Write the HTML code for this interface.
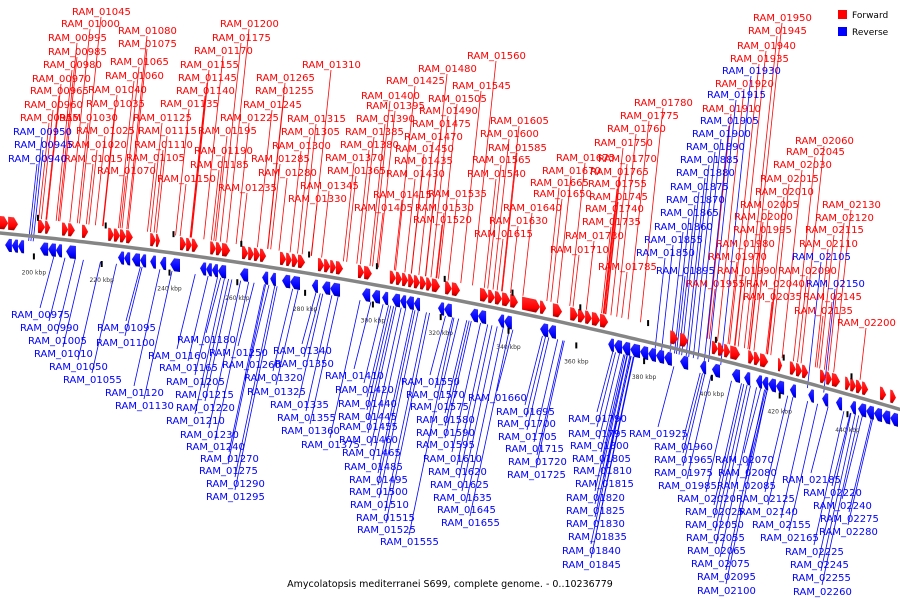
<!DOCTYPE html>
<html><head><meta charset="utf-8"><style>
html,body{margin:0;padding:0;background:#fff;}
svg{display:block;font-family:"DejaVu Sans","Liberation Sans",sans-serif;}
</style></head><body>
<svg id="map" width="900" height="600" viewBox="0 0 900 600" xmlns="http://www.w3.org/2000/svg">
<rect width="900" height="600" fill="#fff"/>
<g id="leaders"></g>
<path id="axis" fill="none" stroke="#858585" stroke-width="3.5"/>
<g id="genes"></g>
<g id="ticks"></g>
<g id="labels"></g>
<g>
<rect x="838" y="10" width="9" height="9" fill="#f00"/>
<text x="852" y="18" font-size="9" fill="#000">Forward</text>
<rect x="838" y="27" width="9" height="9" fill="#00f"/>
<text x="852" y="35" font-size="9" fill="#000">Reverse</text>
</g>
<text x="450" y="587" font-size="9.5" text-anchor="middle" fill="#000">Amycolatopsis mediterranei S699, complete genome. - 0..10236779</text>
</svg>
<script>
// data (kbp)
const fwdStart=[190,192.4,201.2,203.3,208.3,210.1,214.2,221.9,223.6,225.4,227.2,234.3,236,243.1,244.9,246.6,252,253.7,255.5,261.4,263.2,264.9,266.7,272.6,274.4,276.1,277.9,283.8,285.6,287.4,289.1,295.6,297.4,305,306.8,308.6,310.4,312.1,313.9,315.7,317.4,321.3,323.3,331.6,334,336,338.1,340.5,344,349.3,353.1,358.2,360.5,362.6,364.6,367,387.7,390.6,400,401.8,403.6,405.4,410.7,412.4,414.2,419.5,423,424.8,426.6,431.9,433.7,435.4,439.3,440.8,442.5,444.3,449.6,452.6];
const fwdEnd=[192.4,195.3,203.3,204.8,210.1,212.1,216,223.6,225.4,227.2,229.2,236,237.2,244.9,246.6,248.4,253.7,255.5,257.9,263.2,264.9,266.7,268.5,274.4,276.1,277.9,280,285.6,287.4,289.1,291.2,297.4,299.7,306.8,308.6,310.4,312.1,313.9,315.7,317.4,319.8,323.3,325.7,334,336,338.1,340.5,342.8,349.3,351.1,355.8,360.5,362.6,364.6,367,369.4,390,393,401.8,403.6,405.4,408.3,412.4,414.2,416.6,420.7,424.8,426.6,428.4,433.7,435.4,437.8,440.8,442.5,444.3,446.1,451.4,454.3];
const revStart=[191.5,193.5,195.3,201.8,204.2,206.5,209.5,224.8,226.6,228.9,231.3,234.3,237.2,240.2,249,250.8,252.5,254.3,260.8,267.3,269.7,273.2,275.6,282,285,287.4,296.8,299.7,302.7,305.6,308,309.8,312.1,319.2,321,328.7,331,336.9,338.7,349.3,351.7,369.4,371.1,373.5,375.9,378.8,381.2,383.5,385.9,390.6,396.5,400,405.9,409.5,413,414.8,416.6,418.9,423,428.4,432.5,436.6,440.8,443.1,445.5,447.8,450.2,452.6];
const revEnd=[193.5,195.3,197.1,204.2,206.5,208.3,212.4,226.6,228.4,231.3,233.1,236,239,243.1,250.8,252.5,254.3,256.7,263.2,269.1,271.4,275.6,278.5,283.8,287.4,290.3,299.2,302.1,304.5,308,309.8,312.1,313.9,321,323.3,331,333.4,338.7,341,351.7,354,371.1,373.5,375.9,378.8,381.2,383.5,385.9,388.2,393,398.3,402.4,408.3,411.3,414.8,416.6,418.9,421.3,424.8,430.1,434.3,438.4,442.5,445.5,447.8,450.2,452.6,454.9];
const tickKbp=[200,220,240,260,280,300,320,340,360,380,400,420,440];
const tickLabels=["200 kbp","220 kbp","240 kbp","260 kbp","280 kbp","300 kbp","320 kbp","340 kbp","360 kbp","380 kbp","400 kbp","420 kbp","440 kbp"];
const labelNames=["RAM_01045","RAM_01000","RAM_01080","RAM_00995","RAM_01075","RAM_00985","RAM_01065","RAM_00980","RAM_01060","RAM_00970","RAM_01040","RAM_00965","RAM_01035","RAM_00960","RAM_01030","RAM_00955","RAM_01025","RAM_00950","RAM_01020","RAM_00945","RAM_01015","RAM_00940","RAM_01070",
"RAM_01200","RAM_01175","RAM_01170","RAM_01155","RAM_01145","RAM_01140","RAM_01135","RAM_01125","RAM_01115","RAM_01110","RAM_01105","RAM_01150","RAM_01195","RAM_01190","RAM_01185","RAM_01235","RAM_01225","RAM_01245","RAM_01255","RAM_01265","RAM_01310","RAM_01315","RAM_01305","RAM_01300","RAM_01285","RAM_01280","RAM_01345","RAM_01330","RAM_01365","RAM_01370","RAM_01380","RAM_01385","RAM_01390","RAM_01395","RAM_01400","RAM_01425","RAM_01480","RAM_01560","RAM_01545","RAM_01505","RAM_01490","RAM_01475","RAM_01470","RAM_01450","RAM_01435","RAM_01430","RAM_01415","RAM_01405","RAM_01540","RAM_01565","RAM_01585","RAM_01600","RAM_01605","RAM_01535","RAM_01530","RAM_01520","RAM_01650","RAM_01640","RAM_01630","RAM_01615","RAM_01675","RAM_01670","RAM_01665","RAM_01780","RAM_01775","RAM_01760","RAM_01750","RAM_01770","RAM_01765","RAM_01755","RAM_01745","RAM_01740","RAM_01735","RAM_01730","RAM_01710","RAM_01785",
"RAM_01950","RAM_01945","RAM_01940","RAM_01935","RAM_01930","RAM_01920","RAM_01915","RAM_01910","RAM_01905","RAM_01900","RAM_01890","RAM_01885","RAM_01880","RAM_01875","RAM_01870","RAM_01865","RAM_01860","RAM_01855","RAM_01850","RAM_01895","RAM_01955","RAM_01990","RAM_01970","RAM_01980","RAM_01995","RAM_02000","RAM_02005","RAM_02010","RAM_02015","RAM_02030","RAM_02045","RAM_02060","RAM_02040","RAM_02035","RAM_02090","RAM_02105","RAM_02110","RAM_02115","RAM_02120","RAM_02130","RAM_02150","RAM_02145","RAM_02135","RAM_02200",
"RAM_00975","RAM_00990","RAM_01005","RAM_01010","RAM_01050","RAM_01055","RAM_01095","RAM_01100","RAM_01120","RAM_01130","RAM_01180","RAM_01160","RAM_01165","RAM_01205","RAM_01215","RAM_01220","RAM_01210","RAM_01230","RAM_01240","RAM_01270","RAM_01275","RAM_01290","RAM_01295","RAM_01250","RAM_01260","RAM_01320","RAM_01325","RAM_01335","RAM_01340","RAM_01350","RAM_01355","RAM_01360","RAM_01375","RAM_01410","RAM_01420","RAM_01440","RAM_01445","RAM_01455","RAM_01460","RAM_01465","RAM_01485","RAM_01495","RAM_01500","RAM_01510","RAM_01515","RAM_01525","RAM_01555","RAM_01550","RAM_01570","RAM_01575","RAM_01580","RAM_01590","RAM_01595","RAM_01610","RAM_01620","RAM_01625","RAM_01635","RAM_01645","RAM_01655","RAM_01660","RAM_01695","RAM_01700","RAM_01705","RAM_01715","RAM_01720","RAM_01725","RAM_01790","RAM_01795","RAM_01800","RAM_01805","RAM_01810","RAM_01815","RAM_01820","RAM_01825","RAM_01830","RAM_01835","RAM_01840","RAM_01845","RAM_01925","RAM_01960","RAM_01965","RAM_01975","RAM_01985","RAM_02020","RAM_02025","RAM_02050","RAM_02055","RAM_02065","RAM_02075","RAM_02095","RAM_02100","RAM_02070","RAM_02080","RAM_02085","RAM_02125","RAM_02140","RAM_02155","RAM_02165","RAM_02185","RAM_02220","RAM_02240","RAM_02275","RAM_02280","RAM_02225","RAM_02245","RAM_02255","RAM_02260"];
const labelX=[72,61,118,48,118,48,110,43,105,32,88,30,86,24,59,20,76,13,68,14,64,8,97,
220,212,194,180,178,176,160,133,138,134,126,157,198,194,190,218,220,243,255,256,302,287,281,272,251,258,300,288,327,325,340,345,356,366,361,386,418,467,452,428,419,412,404,395,394,386,373,354,467,472,488,480,490,428,415,413,533,503,489,474,556,542,530,634,620,607,594,598,590,588,589,585,582,565,550,598,
753,748,737,730,722,715,707,702,700,692,686,680,676,670,666,660,654,644,636,656,686,717,708,716,733,734,740,755,760,773,786,795,746,743,778,792,799,805,815,822,806,803,794,837,
11,20,28,34,49,63,97,96,105,115,177,148,159,166,175,176,166,180,186,200,199,206,206,209,222,244,247,270,273,275,277,281,301,325,335,338,338,339,339,342,344,349,349,350,356,357,380,401,406,410,416,416,416,423,428,430,433,437,441,468,496,497,498,505,508,507,568,568,570,572,573,575,566,566,566,568,562,562,629,654,654,654,658,677,685,685,686,687,691,697,697,715,718,717,736,739,752,760,782,803,813,820,819,785,790,792,793];
const labelY=[11,23,30,37,43,51,61,64,75,78,89,90,103,104,117,117,130,131,144,144,158,158,170,
23,37,50,64,77,90,103,117,130,144,157,178,130,150,164,187,117,104,90,77,64,118,131,145,158,172,185,198,170,157,144,131,118,105,95,80,68,55,85,98,110,123,136,148,160,173,194,207,173,159,147,133,120,193,207,219,193,207,220,233,157,170,182,102,115,128,142,158,171,183,196,208,221,235,249,266,
17,30,45,58,70,83,94,108,120,133,146,159,172,186,199,212,226,239,252,270,283,270,256,243,229,216,204,191,178,164,151,140,283,296,270,256,243,229,217,204,283,296,310,322,
314,327,340,353,366,379,327,342,392,405,339,355,367,381,394,407,420,434,446,458,470,483,496,352,364,377,391,404,350,363,417,430,444,375,389,403,416,426,439,452,466,479,491,504,517,529,541,381,394,406,419,432,444,458,471,484,497,509,522,397,411,423,436,448,461,474,418,433,445,458,470,483,497,510,523,536,550,564,433,446,459,472,485,498,511,524,537,550,563,576,590,459,472,485,498,511,524,537,479,492,505,518,531,551,564,577,591];
const reverseUpper=["RAM_00950","RAM_00945","RAM_00940","RAM_01930","RAM_01915","RAM_01905","RAM_01900","RAM_01890","RAM_01885","RAM_01880","RAM_01875","RAM_01870","RAM_01865","RAM_01860","RAM_01855","RAM_01850","RAM_01895","RAM_02105","RAM_02150"];

const NS="http://www.w3.org/2000/svg";
const xOf=k=>(k-190)*3.39;
const yOf=x=>233+0.097*x+0.00011*x*x;
const LEAN_UP=0.1, LEAN_DN=0.18;
function mk(tag,attrs,parent){const e=document.createElementNS(NS,tag);for(const k in attrs)e.setAttribute(k,attrs[k]);parent.appendChild(e);return e;}

let d="";for(let x=-5;x<=905;x+=5){d+=(x===-5?"M":"L")+x+","+yOf(x).toFixed(2);}
document.getElementById('axis').setAttribute('d',d);

const gG=document.getElementById('genes');
const defs=mk('defs',{},document.getElementById('map'));
const gr=mk('linearGradient',{id:'gr',x1:0,y1:0,x2:0,y2:1},defs);
mk('stop',{offset:0,'stop-color':'#ff3030'},gr);mk('stop',{offset:0.7,'stop-color':'#f00'},gr);mk('stop',{offset:1,'stop-color':'#900'},gr);
const gb=mk('linearGradient',{id:'gb',x1:0,y1:0,x2:0,y2:1},defs);
mk('stop',{offset:0,'stop-color':'#3030ff'},gb);mk('stop',{offset:0.7,'stop-color':'#00f'},gb);mk('stop',{offset:1,'stop-color':'#009'},gb);
for(let i=0;i<fwdStart.length;i++){
  const x1=xOf(fwdStart[i]),x2=xOf(fwdEnd[i]);const h=Math.min(4,(x2-x1)*0.6);
  const a=yOf(x1),b=yOf(x2),m=yOf(x2-h);
  const p=mk('polygon',{points:`${x1},${a-17} ${x2-h},${m-17} ${x2},${b-10.5} ${x2-h},${m-4} ${x1},${a-4}`,fill:'url(#gr)'},gG);
  
  
}
for(let i=0;i<revStart.length;i++){
  const x1=xOf(revStart[i]),x2=xOf(revEnd[i]);const h=Math.min(4,(x2-x1)*0.6);
  const a=yOf(x1),b=yOf(x2),m=yOf(x1+h);
  const p=mk('polygon',{points:`${x1},${a+11.5} ${x1+h},${m+5} ${x2},${b+5} ${x2},${b+18} ${x1+h},${m+18}`,fill:'url(#gb)'},gG);
  
  
}

const tG=document.getElementById('ticks');
tickKbp.forEach((k,i)=>{
  const x=xOf(k),y=yOf(x);
  const t=mk('rect',{x:x-1,y:y+17,width:2,height:6,fill:'#000'},tG);
  
  
  const xu=x+4,yu=yOf(xu);
  const t2=mk('rect',{x:xu-1,y:yu-22,width:2,height:6,fill:'#000'},tG);
  
  
  const lb=mk('text',{x:x,y:y+38,'font-size':6,'text-anchor':'middle',fill:'#333'},tG);
  lb.textContent=tickLabels[i];
  
  
});

const lG=document.getElementById('labels'),leG=document.getElementById('leaders');
labelNames.forEach((n,i)=>{
  const x=labelX[i],y=labelY[i];
  const isRev=reverseUpper.includes(n);
  const upper=y<yOf(x+30)-10;
  const col=upper&&!isRev?'#f00':'#00f';
  const sx=x+29;
  let ex,ey;
  if(upper){
    const off=isRev?5:-18;
    ex=sx-(yOf(sx)+off-y)*LEAN_UP; ey=yOf(ex)+off;
    const ln=mk('line',{x1:sx,y1:y+6,x2:ex,y2:ey,stroke:col,'stroke-width':0.8},leG);
    
    
  }else{
    ex=sx+(y-yOf(sx))*LEAN_DN; ey=yOf(ex)+18;
    const ln=mk('line',{x1:sx,y1:y-6,x2:ex,y2:ey,stroke:col,'stroke-width':0.8},leG);
    
    
  }
  const t=mk('text',{x:x,y:y+4,'font-size':10,fill:col},lG);
  t.textContent=n;
  
  
});
</script>
</body></html>
